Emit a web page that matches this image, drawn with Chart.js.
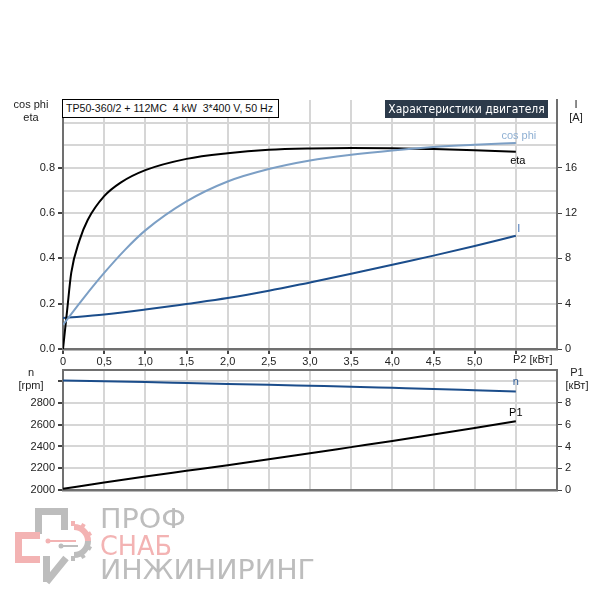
<!DOCTYPE html>
<html>
<head>
<meta charset="utf-8">
<script src="https://cdn.jsdelivr.net/npm/chart.js@4"></script>
<style>
  body { margin: 0; background: #fff; font-family: "Liberation Sans", Arial, sans-serif; }
  #wrap { position: relative; width: 600px; height: 600px; overflow: hidden; }
  canvas { position: absolute; left: 0; }
  .lbl { position: absolute; font-size: 11px; color: #222; text-align: center; line-height: 12.5px; }
</style>
</head>
<body>
<div id="wrap">
  <canvas id="topChart" width="600" height="370" style="top:0"></canvas>
  <canvas id="botChart" width="600" height="140" style="top:360px"></canvas>

  <div class="lbl" style="left:6px;top:98px;width:50px">cos phi<br>eta</div>
  <div class="lbl" style="left:561px;top:98px;width:30px">I<br>[A]</div>
  <div class="lbl" style="left:6px;top:366px;width:50px">n<br>[rpm]</div>
  <div class="lbl" style="left:561px;top:366px;width:32px">P1<br>[кВт]</div>
  <div class="lbl" style="left:513px;top:353px;text-align:left;white-space:nowrap">P2 [кВт]</div>

  <div style="position:absolute;left:62px;top:99px;width:212px;height:17px;border:1px solid #000;background:#fff;font-size:10.6px;line-height:17px;padding-left:3px;white-space:pre;color:#111">TP50-360/2 + 112MC  4 kW  3*400 V, 50 Hz</div>
  <div style="position:absolute;left:385px;top:100px;width:163px;height:18px;background:#2c3a4a;color:#fff;font-family:'DejaVu Sans Condensed','DejaVu Sans',sans-serif;font-stretch:condensed;font-size:12px;line-height:18px;text-align:center;white-space:nowrap;overflow:hidden">Характеристики двигателя</div>

  <svg width="600" height="600" style="position:absolute;left:0;top:0;pointer-events:none">
    <g fill="none" stroke-linecap="butt">
      <path d="M38.5 534 V511.5 H64.5 V530" stroke="#bdbdbd" stroke-width="7"/>
      <path d="M40 535.5 H18.5 V559.5 H40" stroke="#f3b3b3" stroke-width="7"/>
      <path d="M46.5 582 V556 M46.5 582 L66 558" stroke="#bdbdbd" stroke-width="7"/>
      <path d="M74 527 A14 14 0 0 1 88 541" stroke="#f3b3b3" stroke-width="6"/>
      <path d="M88 541 A14 14 0 0 1 74 555" stroke="#bdbdbd" stroke-width="6"/>
      <path d="M73 521 V526 M84 524 L81 529 M91 533 L86 536" stroke="#f3b3b3" stroke-width="4"/>
      <path d="M91 549 L86 546 M84 558 L81 553 M73 561 V556" stroke="#bdbdbd" stroke-width="4"/>
      <path d="M48 541 H76" stroke="#f3b3b3" stroke-width="2"/>
      <path d="M61 546 H78" stroke="#bdbdbd" stroke-width="2"/>
    </g>
    <circle cx="48" cy="541" r="2.5" fill="#f3b3b3"/>
    <circle cx="61" cy="546" r="2.5" fill="#bdbdbd"/>
    <g font-family="DejaVu Sans, sans-serif" font-size="27">
      <text x="100" y="528" fill="#bdbdbd" textLength="86" lengthAdjust="spacingAndGlyphs">ПРОФ</text>
      <text x="100" y="555" fill="#f3b3b3" textLength="72" lengthAdjust="spacingAndGlyphs">СНАБ</text>
      <text x="100" y="579" fill="#bdbdbd" textLength="215" lengthAdjust="spacingAndGlyphs">ИНЖИНИРИНГ</text>
    </g>
  </svg>
</div>

<script>
// P2 [kW] sample points and values
const p2Eta = [0, 0.05, 0.1, 0.2, 0.3, 0.5, 0.7, 1.0, 1.5, 2.0, 2.5, 3.0, 3.5, 4.0, 4.5, 5.0, 5.5];
const etaValues = [0, 0.17, 0.336, 0.48, 0.57, 0.675, 0.735, 0.79, 0.84, 0.865, 0.88, 0.886, 0.888, 0.887, 0.883, 0.878, 0.871];

const p2Cos = [0, 0.25, 0.5, 0.75, 1.0, 1.5, 2.0, 2.5, 3.0, 3.5, 4.0, 4.5, 5.0, 5.5];
const cosValues = [0.107, 0.225, 0.336, 0.437, 0.524, 0.652, 0.74, 0.795, 0.833, 0.858, 0.877, 0.892, 0.902, 0.91];

const p2Steps = [0, 0.5, 1.0, 1.5, 2.0, 2.5, 3.0, 3.5, 4.0, 4.5, 5.0, 5.5];
const currentValues = [2.74, 3.04, 3.48, 3.98, 4.5, 5.14, 5.88, 6.64, 7.45, 8.25, 9.1, 10.0];
const speedValues = [3000, 2993, 2986, 2978, 2970, 2962, 2953, 2944, 2934, 2924, 2912, 2900];
const p1Values = [0.15, 0.72, 1.26, 1.78, 2.3, 2.84, 3.38, 3.94, 4.5, 5.08, 5.68, 6.3];

const xLabels = ['0', '0,5', '1,0', '1,5', '2,0', '2,5', '3,0', '3,5', '4,0', '4,5', '5,0', '', ''];

const pts = (xs, ys) => xs.map((x, i) => ({ x: x, y: ys[i] }));

Chart.defaults.font.family = '"Liberation Sans", Arial, sans-serif';
Chart.defaults.font.size = 11;
Chart.defaults.color = '#222';

const GRID = '#d6d6d6';
const AXIS = '#707070';
const NONE = 'rgba(0,0,0,0)';

// small text at the end of each curve
const endLabels = {
  id: 'endLabels',
  afterDatasetsDraw(chart) {
    const ctx = chart.ctx;
    chart.data.datasets.forEach((ds, i) => {
      if (!ds.endLabel) return;
      const meta = chart.getDatasetMeta(i);
      const p = meta.data[meta.data.length - 1];
      ctx.save();
      ctx.font = '11px "Liberation Sans", Arial, sans-serif';
      ctx.fillStyle = ds.labelColor || ds.borderColor;
      ctx.textAlign = 'center';
      ctx.textBaseline = 'middle';
      ctx.fillText(ds.endLabel, p.x + ds.labelDx, p.y + ds.labelDy);
      ctx.restore();
    });
  }
};

const lineDs = (label, data, color, axis, dx, dy, labelColor) => ({
  label: label, data: data, yAxisID: axis,
  borderColor: color, borderWidth: 2, pointRadius: 0,
  cubicInterpolationMode: 'monotone', fill: false,
  endLabel: label, labelDx: dx, labelDy: dy, labelColor: labelColor
});

new Chart(document.getElementById('topChart'), {
  type: 'line',
  data: {
    datasets: [
      lineDs('cos phi', pts(p2Cos, cosValues), '#7c9fc5', 'y', 3, -7, '#8fb0d3'),
      lineDs('eta', pts(p2Eta, etaValues), '#000000', 'y', 2, 9),
      lineDs('I', pts(p2Steps, currentValues), '#1b4d8b', 'yI', 3, -7, '#4a78b8')
    ]
  },
  options: {
    responsive: false, animation: false, devicePixelRatio: 1,
    layout: { padding: { top: 100, left: 0, right: 0, bottom: 0 } },
    plugins: { legend: { display: false }, tooltip: { enabled: false } },
    scales: {
      x: {
        type: 'linear', min: 0, max: 6,
        ticks: { stepSize: 0.5, autoSkip: false, maxRotation: 0, padding: 1,
          callback: (v, i) => xLabels[i] },
        grid: { color: ctx => ctx.index === 12 ? NONE : GRID, lineWidth: 2, tickLength: 5,
          tickColor: ctx => ctx.index >= 12 ? NONE : '#444' },
        border: { color: AXIS, width: 2.5 },
        afterFit: s => { s.height = 21; }
      },
      y: {
        position: 'left', min: 0, max: 1.1,
        ticks: { stepSize: 0.1, padding: 3,
          callback: (v, i) => (i % 2 === 0 && i <= 8) ? v.toFixed(1) : '' },
        grid: { color: ctx => (ctx.index === 0 || ctx.index === 11) ? NONE : GRID, lineWidth: 2, tickLength: 5,
          tickColor: ctx => (ctx.index % 2 === 0 && ctx.index <= 8) ? '#444' : NONE },
        border: { color: AXIS, width: 2 },
        afterFit: s => { s.width = 63; }
      },
      yI: {
        position: 'right', min: 0, max: 22,
        ticks: { stepSize: 2, padding: 3,
          callback: (v) => (v % 4 === 0 && v <= 16) ? String(v) : '' },
        grid: { drawOnChartArea: false, tickLength: 5,
          tickColor: ctx => (ctx.tick && ctx.tick.value % 4 === 0 && ctx.tick.value <= 16) ? '#444' : NONE },
        border: { color: AXIS, width: 2 },
        afterFit: s => { s.width = 43; }
      }
    }
  },
  plugins: [endLabels]
});

new Chart(document.getElementById('botChart'), {
  type: 'line',
  data: {
    datasets: [
      lineDs('n', pts(p2Steps, speedValues), '#1b4d8b', 'yN', 0, -10, '#2b5a96'),
      lineDs('P1', pts(p2Steps, p1Values), '#000000', 'yP', 0, -8, '#000')
    ]
  },
  options: {
    responsive: false, animation: false, devicePixelRatio: 1,
    layout: { padding: { top: 8, left: 0, right: 0, bottom: 0 } },
    plugins: { legend: { display: false }, tooltip: { enabled: false } },
    scales: {
      x: {
        type: 'linear', min: 0, max: 6,
        ticks: { display: false, stepSize: 0.5 },
        grid: { color: ctx => (ctx.index === 0 || ctx.index === 12) ? NONE : GRID, lineWidth: 2, drawTicks: false },
        border: { color: AXIS, width: 2.5 },
        afterFit: s => { s.height = 9; }
      },
      xTop: {
        type: 'linear', position: 'top', min: 0, max: 6,
        ticks: { display: false },
        grid: { display: false, drawTicks: false },
        border: { display: true, color: AXIS, width: 2 },
        afterFit: s => { s.height = 0; }
      },
      yN: {
        position: 'left', min: 2000, max: 3100,
        ticks: { stepSize: 100, padding: 3,
          callback: (v) => (v % 200 === 0 && v <= 2800) ? String(v) : '' },
        grid: { color: ctx => (ctx.index === 0) ? NONE : GRID, lineWidth: 2, tickLength: 5,
          tickColor: ctx => (ctx.tick && ctx.tick.value % 200 === 0 && ctx.tick.value <= 3000) ? '#444' : NONE },
        border: { color: AXIS, width: 2 },
        afterFit: s => { s.width = 63; }
      },
      yP: {
        position: 'right', min: 0, max: 11,
        ticks: { stepSize: 1, padding: 3,
          callback: (v) => (v % 2 === 0 && v <= 8) ? String(v) : '' },
        grid: { drawOnChartArea: false, tickLength: 5,
          tickColor: ctx => (ctx.tick && ctx.tick.value % 2 === 0 && ctx.tick.value <= 8) ? '#444' : NONE },
        border: { color: AXIS, width: 2 },
        afterFit: s => { s.width = 43; }
      }
    }
  },
  plugins: [endLabels]
});
</script>
</body>
</html>
